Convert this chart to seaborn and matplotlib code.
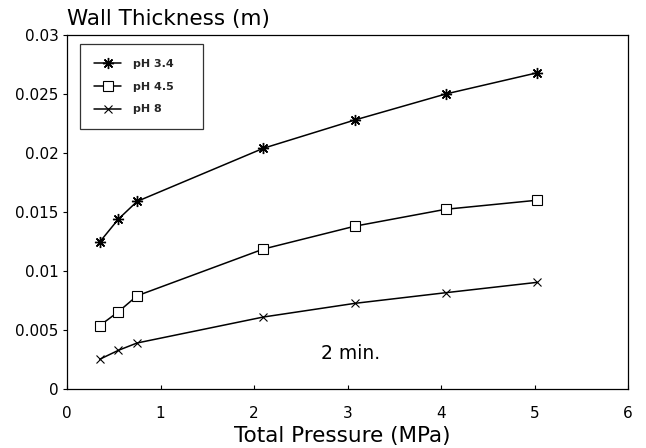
import matplotlib
matplotlib.use("Agg")
import matplotlib.pyplot as plt
import seaborn as sns
import pandas as pd

pressure = [0.35, 0.55, 0.75, 2.1, 3.08, 4.05, 5.03]
ph34 = [0.01246, 0.0144, 0.0159, 0.0204, 0.0228, 0.0250, 0.0268]
ph45 = [0.00537, 0.00655, 0.0079, 0.01186, 0.0138, 0.01523, 0.0160]
ph8 = [0.00252, 0.00328, 0.0039, 0.0061, 0.00726, 0.00816, 0.00904]
labels = ["pH 3.4", "pH 4.5", "pH 8"]
xticks = [0, 1, 2, 3, 4, 5, 6]
yticks = [0, 0.005, 0.01, 0.015, 0.02, 0.025, 0.03]
yticklabels = ["0", "0.005", "0.01", "0.015", "0.02", "0.025", "0.03"]

sns.set_theme(style="white")
plt.rcParams['font.family'] = ['DejaVu Sans']

df = pd.concat([
    pd.DataFrame({"P": pressure, "T": v, "s": lab})
    for v, lab in zip([ph34, ph45, ph8], labels)
])

fig = plt.figure(figsize=(6.46, 4.48), dpi=100)
ax = fig.add_axes([67/646, 1-389/448, 561/646, 354/448])

mk = {"pH 3.4": dict(marker=(8, 2, 0), markersize=8, markeredgewidth=1.0),
      "pH 4.5": dict(marker="s", markersize=6.5, markerfacecolor="white", markeredgewidth=0.8),
      "pH 8": dict(marker="x", markersize=6, markeredgewidth=0.8)}

for lab in labels:
    sub = df[df["s"] == lab]
    sns.lineplot(data=sub, x="P", y="T", ax=ax, color="black", linewidth=1.1,
                 markeredgecolor="black", label=lab, **mk[lab])

ax.set_xlim(0, 6)
ax.set_ylim(0, 0.03)
ax.set_xticks(xticks)
ax.set_xticklabels([str(t) for t in xticks])
ax.set_yticks(yticks)
ax.set_yticklabels(yticklabels)
ax.tick_params(axis="x", direction="in", length=3, width=0.8, labelsize=11, pad=12.5, colors="black")
ax.tick_params(axis="y", direction="out", length=3, width=0.8, labelsize=11, pad=3, colors="black")
ax.tick_params(axis="both", bottom=True, left=True)
for sp in ax.spines.values():
    sp.set_color("black")
    sp.set_linewidth(0.9)

ax.set_xlabel("Total Pressure (MPa)", fontsize=15.5, color="black", va="top")
ax.set_ylabel("")
ax.xaxis.set_label_coords((342-67)/561, (389-426)/354)
ax.text(0, (389-25)/354, "Wall Thickness (m)", transform=ax.transAxes, fontsize=15.5,
        ha="left", va="baseline", color="black")
ax.text(3.03, 0.00305, "2 min.", fontsize=13.5, ha="center", va="center", color="black")

leg = ax.legend(loc="upper left", bbox_to_anchor=(13/561, 1-13/354, 123/561, 0.01),
                mode="expand", frameon=True,
                fancybox=False, edgecolor="black", prop={"weight": "bold", "size": 8},
                handlelength=2.35, borderpad=1.3, labelspacing=1.15, handletextpad=1.1,
                borderaxespad=0)
leg.get_frame().set_linewidth(0.9)

fig.savefig("out.png", dpi=100)
